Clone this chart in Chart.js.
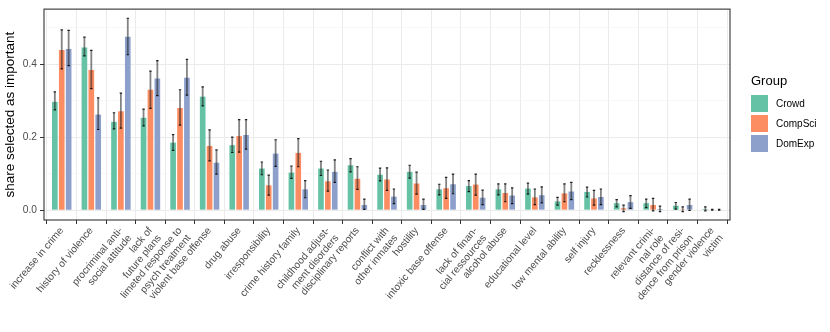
<!DOCTYPE html>
<html><head><meta charset="utf-8">
<script src="https://cdn.jsdelivr.net/npm/chart.js@4"></script>
<style>html,body{margin:0;padding:0;background:#fff}</style>
</head><body><canvas id="c" width="830" height="332"></canvas>
<script>
const categories = [
  "increase in crime", "history of violence", ["procriminal anti-","social attitude"],
  ["lack of","future plans"], ["limeted response to","psych treatment"], "violent base offense",
  "drug abuse", "irresponsibility", "crime history family", ["childhood adjust-","ment disorders"],
  "disciplinary reports", ["conflict with","other inmates"], "hostility", "intoxic base offense",
  ["lack of finan-","cial ressources"], "alcohol abuse", "educational level", "low mental ability",
  "self injury", "recklessness", ["relevant crimi-","nal role"], ["distance of resi-","dence from prison"],
  ["gender violence","victim"]
];
const groups = ["Crowd", "CompSci", "DomExp"];
const crowd   = [0.297,0.446,0.242,0.253,0.185,0.311,0.178,0.114,0.103,0.114,0.123,0.097,0.105,0.057,0.066,0.057,0.059,0.024,0.050,0.019,0.019,0.012,0.003];
const crowdLo = [0.275,0.423,0.223,0.231,0.164,0.286,0.158,0.097,0.087,0.095,0.105,0.080,0.088,0.042,0.051,0.042,0.044,0.014,0.036,0.009,0.007,0.003,-0.002];
const crowdHi = [0.324,0.474,0.267,0.277,0.207,0.338,0.200,0.132,0.121,0.134,0.141,0.115,0.123,0.071,0.081,0.072,0.074,0.035,0.063,0.029,0.030,0.021,0.009];
const compSci   = [0.439,0.384,0.271,0.330,0.280,0.176,0.203,0.068,0.157,0.079,0.086,0.084,0.073,0.060,0.070,0.047,0.035,0.046,0.032,0.005,0.014,0.002,0.001];
const compSciLo = [0.387,0.333,0.225,0.279,0.233,0.135,0.159,0.041,0.119,0.052,0.057,0.054,0.044,0.032,0.041,0.023,0.015,0.023,0.014,-0.004,-0.002,-0.004,0.000];
const compSciHi = [0.494,0.438,0.321,0.381,0.330,0.220,0.248,0.096,0.196,0.110,0.119,0.116,0.104,0.090,0.099,0.072,0.058,0.072,0.054,0.014,0.032,0.009,0.002];
const domExp   = [0.442,0.262,0.475,0.361,0.363,0.130,0.206,0.155,0.057,0.105,0.014,0.037,0.014,0.071,0.034,0.040,0.041,0.051,0.036,0.022,0.003,0.014,0.001];
const domExpLo = [0.396,0.221,0.426,0.314,0.315,0.099,0.167,0.120,0.034,0.076,0.002,0.018,0.002,0.045,0.015,0.018,0.020,0.029,0.015,0.005,-0.004,-0.001,0.000];
const domExpHi = [0.493,0.308,0.526,0.410,0.413,0.165,0.248,0.193,0.081,0.138,0.030,0.058,0.030,0.099,0.055,0.061,0.064,0.076,0.058,0.040,0.011,0.030,0.002];
const yTicks = [0, 0.1, 0.2, 0.3, 0.4, 0.5];
const yTickLabels = ["0.0", "", "0.2", "", "0.4", ""];
const colors = ["#66C2A5", "#FC8D62", "#8DA0CB"];

const FONT = "'Liberation Sans', Arial, Helvetica, sans-serif";
const series = [crowd, compSci, domExp];
const errs = [[crowdLo, crowdHi], [compSciLo, compSciHi], [domExpLo, domExpHi]];

const errorBars = {
  id: 'errorBars',
  afterDatasetsDraw(chart) {
    const ys = chart.scales.y, ctx = chart.ctx;
    chart.data.datasets.forEach((ds, i) => {
      const meta = chart.getDatasetMeta(i);
      meta.data.forEach((el, j) => {
        const x = el.x;
        const yl = ys.getPixelForValue(errs[i][0][j]);
        const yh = ys.getPixelForValue(errs[i][1][j]);
        ctx.save();
        ctx.strokeStyle = 'rgba(30,30,30,0.55)';
        ctx.lineWidth = 1.8;
        ctx.beginPath(); ctx.moveTo(x, yl); ctx.lineTo(x, yh); ctx.stroke();
        ctx.strokeStyle = 'rgba(0,0,0,0.85)';
        ctx.lineWidth = 1.2;
        ctx.beginPath();
        ctx.moveTo(x - 1.2, yl); ctx.lineTo(x + 1.2, yl);
        ctx.moveTo(x - 1.2, yh); ctx.lineTo(x + 1.2, yh);
        ctx.stroke();
        ctx.restore();
      });
    });
  }
};

const panelAndLegend = {
  id: 'panelAndLegend',
  afterDraw(chart) {
    const ctx = chart.ctx, a = chart.chartArea;
    ctx.save();
    ctx.strokeStyle = '#333333';
    ctx.lineWidth = 1.1;
    ctx.strokeRect(a.left, a.top, a.right - a.left, a.bottom - a.top);
    const lx = a.right + 21;
    ctx.fillStyle = '#000';
    ctx.font = '13px ' + FONT;
    ctx.textBaseline = 'middle';
    ctx.textAlign = 'left';
    ctx.fillText('Group', lx, 81);
    groups.forEach((g, i) => {
      const top = 95 + i * 20;
      ctx.fillStyle = colors[i];
      ctx.fillRect(lx, top, 17, 17);
      ctx.fillStyle = '#000';
      ctx.font = '10px ' + FONT;
      ctx.fillText(g, lx + 25, top + 9);
    });
    ctx.restore();
  }
};

new Chart(document.getElementById('c'), {
  type: 'bar',
  data: {
    datasets: groups.map((g, i) => ({
      label: g,
      data: series[i].map((v, j) => ({ x: j, y: v })),
      backgroundColor: colors[i],
      borderColor: '#ffffff',
      borderWidth: 0,
      categoryPercentage: 0.7,
      barPercentage: 0.82
    }))
  },
  options: {
    responsive: false,
    animation: false,
    layout: { padding: { top: 6, right: 100, left: 0, bottom: 0 } },
    plugins: { legend: { display: false }, tooltip: { enabled: false } },
    scales: {
      x: {
        type: 'linear',
        min: -0.6,
        max: categories.length - 1 + 0.6,
        offset: false,
        afterBuildTicks: s => { s.ticks = categories.map((c, i) => ({ value: i })); },
        afterFit: s => { s.height = 112; },
        ticks: {
          autoSkip: false, maxRotation: 50, minRotation: 50, padding: 1,
          callback: v => categories[Math.round(v)],
          font: { family: FONT, size: 10.2, lineHeight: 1.15 }, color: '#4d4d4d'
        },
        grid: { color: '#ebebeb', lineWidth: 1, tickColor: '#333333', tickLength: 4 },
        border: { display: false }
      },
      y: {
        type: 'linear',
        min: -0.027,
        max: 0.551,
        afterBuildTicks: s => { s.ticks = yTicks.map(v => ({ value: v })); },
        afterFit: s => { s.width = 44; },
        ticks: {
          padding: 3,
          callback: (v, i) => yTickLabels[i],
          font: { family: FONT, size: 10.2 }, color: '#4d4d4d'
        },
        grid: {
          color: c => (c.index % 2 === 0 ? '#ebebeb' : '#f4f4f4'),
          lineWidth: c => (c.index % 2 === 0 ? 1 : 0.6),
          tickColor: c => (c.index % 2 === 0 ? '#333333' : 'rgba(0,0,0,0)'),
          tickLength: 4
        },
        border: { display: false },
        title: {
          display: true, text: 'share selected as important',
          font: { family: FONT, size: 13.5 }, color: '#000', padding: { top: 2, bottom: 0 }
        }
      }
    }
  },
  plugins: [errorBars, panelAndLegend]
});
</script>
</body></html>
